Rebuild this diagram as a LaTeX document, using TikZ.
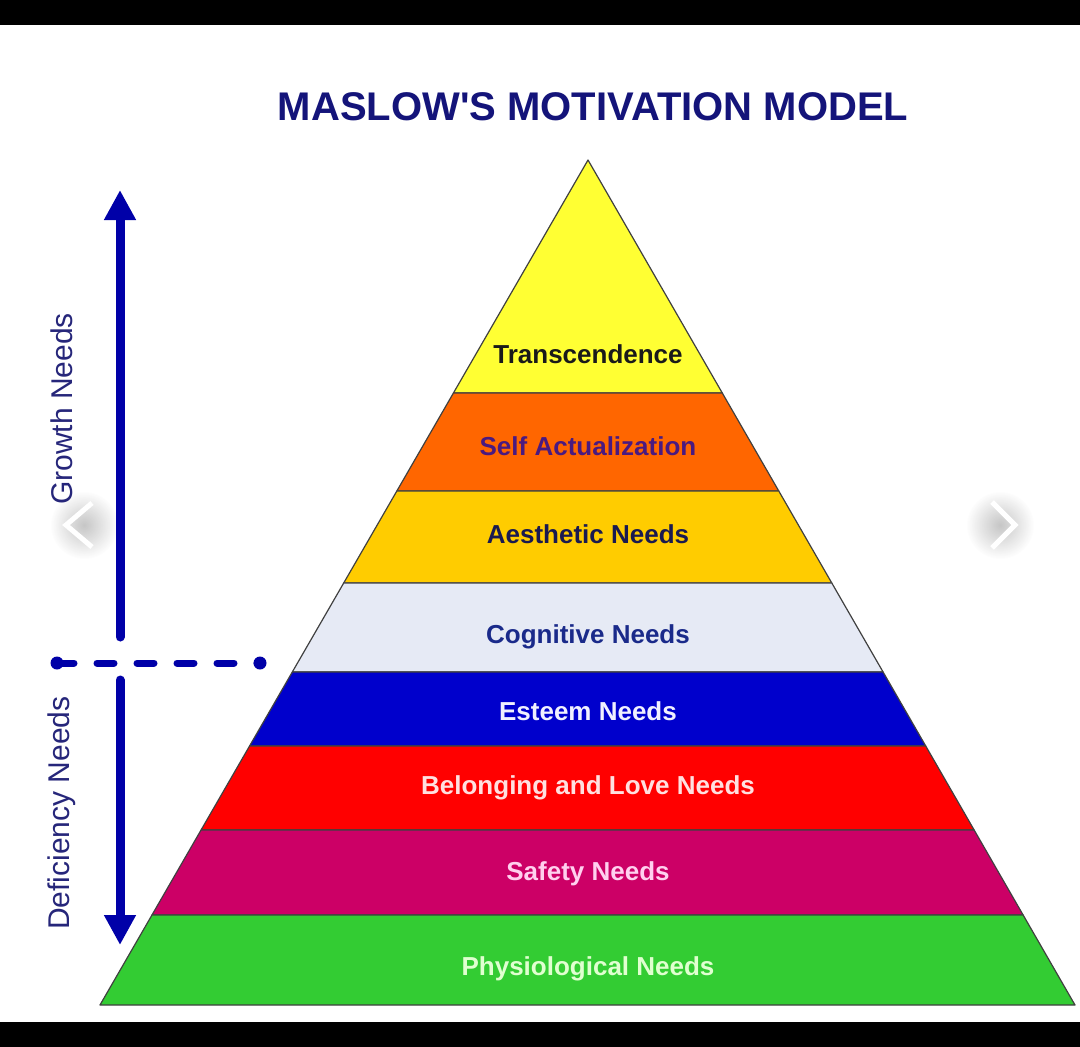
\documentclass[tikz,border=0pt]{standalone}
\usepackage{fontspec}
\setmainfont{Liberation Sans}
\usetikzlibrary{calc,arrows.meta}

\definecolor{titlenavy}{HTML}{14147A}
\definecolor{sidenavy}{HTML}{26267A}
\definecolor{arrowblue}{HTML}{0000A8}
\definecolor{layTrans}{HTML}{FFFF33}
\definecolor{laySelf}{HTML}{FF6600}
\definecolor{layAest}{HTML}{FFCC00}
\definecolor{layCogn}{HTML}{E6EAF5}
\definecolor{layEsteem}{HTML}{0000CC}
\definecolor{layBelong}{HTML}{FF0000}
\definecolor{laySafety}{HTML}{CC0066}
\definecolor{layPhys}{HTML}{33CC33}
\definecolor{txtTrans}{HTML}{1A1A1A}
\definecolor{txtSelf}{HTML}{4A1A80}
\definecolor{txtAest}{HTML}{1A1A50}
\definecolor{txtCogn}{HTML}{1A2A8A}
\definecolor{txtEsteem}{HTML}{F0F0FF}
\definecolor{txtBelong}{HTML}{FFE0E0}
\definecolor{txtSafety}{HTML}{FFD0EE}
\definecolor{txtPhys}{HTML}{E0FFD0}

\begin{document}
\begin{tikzpicture}[
    x=1pt, y=-1pt,
    layer/.style={draw=black!75, line width=1.2pt, line join=round},
    level_label/.style={font=\fontsize{26}{30}\selectfont\bfseries, anchor=base, inner sep=0pt},
    side_label/.style={font=\fontsize{30}{34}\selectfont, text=sidenavy, rotate=90, inner sep=0pt},
    need_arrow/.style={draw=arrowblue, line width=9pt, line cap=round, -{Triangle[width=30pt,length=30pt]}},
    divider/.style={draw=arrowblue, line width=7pt, line cap=round, dash pattern=on 17pt off 23pt},
    glow/.style={inner color=black!28, outer color=white, opacity=0.8},
    chevron/.style={draw=white, line width=5pt}
  ]
  % frame: black bars top and bottom
  \useasboundingbox (0,0) rectangle (1080,1047);
  \fill[white] (0,25) rectangle (1080,1022);
  \fill[black] (0,0) rectangle (1080,25);
  \fill[black] (0,1022) rectangle (1080,1047);

  % carousel glows (under everything else)
  \shade[glow] (84,525) circle (34);
  \shade[glow] (1000,525) circle (34);

  % pyramid corners
  \coordinate (apex) at (588,160);
  \coordinate (bl) at (100,1005);
  \coordinate (br) at (1075,1005);

  % layers: top y / bottom y / fill / text colour / label / baseline / name
  \foreach \yt/\yb/\col/\tcol/\txt/\ybase/\nm in {
      160/393/layTrans/txtTrans/Transcendence/363/trans,
      393/491/laySelf/txtSelf/Self Actualization/455/self,
      491/583/layAest/txtAest/Aesthetic Needs/543/aest,
      583/672/layCogn/txtCogn/Cognitive Needs/643/cogn,
      672/746/layEsteem/txtEsteem/Esteem Needs/720/esteem,
      746/830/layBelong/txtBelong/Belonging and Love Needs/794/belong,
      830/915/laySafety/txtSafety/Safety Needs/880/safety,
      915/1005/layPhys/txtPhys/Physiological Needs/975/phys}{
    \filldraw[layer, fill=\col]
      ($(apex)!{(\yt-160)/845}!(bl)$) -- ($(apex)!{(\yb-160)/845}!(bl)$)
      -- ($(apex)!{(\yb-160)/845}!(br)$) -- ($(apex)!{(\yt-160)/845}!(br)$) -- cycle;
    \node[level_label, text=\tcol] (\nm) at (588,\ybase) {\txt};
  }

  % title
  \node[font=\fontsize{40}{46}\selectfont\bfseries, text=titlenavy, anchor=base, inner sep=0pt]
    (title) at (593,120) {MASLOW\textquotesingle S MOTIVATION MODEL};

  % growth / deficiency arrows
  \coordinate (growth_start) at (120,637);
  \coordinate (growth_end) at (120,190);
  \coordinate (defic_start) at (120,680);
  \coordinate (defic_end) at (120,945);
  \draw[need_arrow] (growth_start) -- (growth_end);
  \draw[need_arrow] (defic_start) -- (defic_end);

  % dashed divider with dots
  \coordinate (div_left) at (57,663);
  \coordinate (div_right) at (260,663);
  \draw[divider] (div_left) -- (div_right);
  \fill[arrowblue] (div_left) circle (6.5);
  \fill[arrowblue] (div_right) circle (6.5);

  \node[side_label] (growth) at (62,409) {Growth Needs};
  \node[side_label] (defic) at (62,813) {Deficiency Needs};

  % carousel chevrons
  \draw[chevron] (92,503) -- (66,525) -- (92,547);
  \draw[chevron] (992,502) -- (1015,525) -- (992,548);
\end{tikzpicture}
\end{document}
